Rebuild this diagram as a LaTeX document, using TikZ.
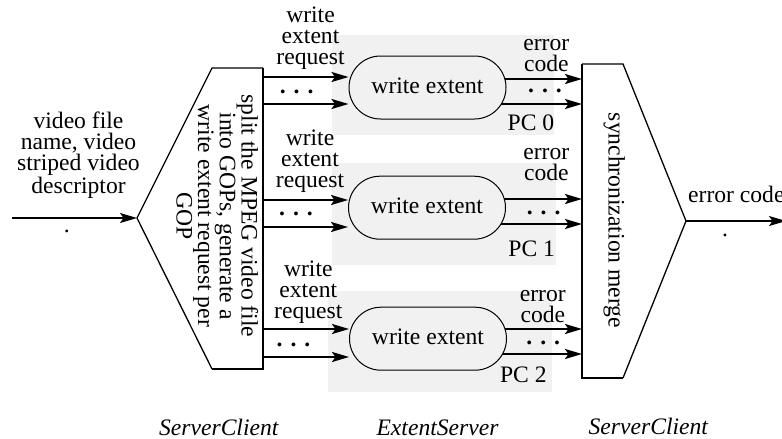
\documentclass[tikz,border=0pt]{standalone}
\usepackage{fontspec}
\setmainfont{Liberation Serif}
\usetikzlibrary{arrows.meta,shapes.misc,calc}
\pgfdeclarelayer{background}
\pgfsetlayers{background,main}
\definecolor{panel}{gray}{0.945}

\begin{document}
\begin{tikzpicture}[x=1pt,y=-1pt,
  every node/.style={font=\fontsize{23.6}{21}\selectfont, inner sep=0pt},
  lbl/.style={align=center, anchor=base},
  role/.style={anchor=base, font=\fontsize{23.6}{21}\selectfont\itshape},
  headed/.style={-{Stealth[length=17pt,width=10pt,inset=3.5pt]}},
  grouparrow/.style={headed, line width=2.2pt},
  inarrow/.style={headed, line width=1.3pt},
  edge/.style={line width=1.3pt, line join=miter},
  heavyedge/.style={line width=2.2pt, line join=miter},
  task/.style={rounded rectangle, draw, line width=1pt, fill=panel,
    minimum width=157pt, minimum height=63pt,
    text height=13pt, text depth=2pt},
  dots/.style={anchor=center, font=\fontsize{23.6}{21}\selectfont\bfseries}]
\useasboundingbox (0,0) rectangle (782,439);

% splitting stage (ServerClient)
\coordinate (sA) at (212,68);
\coordinate (sB) at (263,68);
\coordinate (sC) at (263,369);
\coordinate (sD) at (212,369);
\coordinate (sE) at (137,218);
\draw[edge] (sD) -- (sE) -- (sA) -- (sB);
\draw[heavyedge] (sB) -- (sC) -- (sD);
\node[rotate=-90, align=center, anchor=base,
      font=\fontsize{23.6}{21.7}\selectfont] (split) at (176.5,216)
  {split the MPEG video file\\into GOPs, generate a\\write extent request per\\GOP};

% merging stage (ServerClient)
\coordinate (mA) at (582,64);
\coordinate (mB) at (623,64);
\coordinate (mE) at (686,221);
\coordinate (mC) at (623,378);
\coordinate (mD) at (582,378);
\draw[edge] (mA) -- (mB) -- (mE) -- (mC);
\draw[heavyedge] (mC) -- (mD) -- (mA);
\node[rotate=-90, anchor=base] (merge) at (608.7,220.5) {synchronization merge};

% extent servers
\node[task] (s1) at (427.5,87.5) {write extent};
\node[task] (s2) at (427,207.7) {write extent};
\node[task] (s3) at (428,338.7) {write extent};

% request ports on the splitter, reply ports on the merger
\coordinate (o11) at (263,77);  \coordinate (o12) at (263,104);
\coordinate (o21) at (263,200); \coordinate (o22) at (263,227);
\coordinate (o31) at (263,329); \coordinate (o32) at (263,357);
\coordinate (i11) at (582,79);  \coordinate (i12) at (582,104);
\coordinate (i21) at (582,199); \coordinate (i22) at (582,224);
\coordinate (i31) at (582,329); \coordinate (i32) at (582,354);

\begin{pgfonlayer}{background}
  \fill[panel] (332,35) rectangle (554,135);
  \fill[panel] (332,163) rectangle (556,265);
  \fill[panel] (328,291) rectangle (552,392);
  \draw[grouparrow] (i11 -| s1.center) -- (i11);
  \draw[grouparrow] (i12 -| s1.center) -- (i12);
  \draw[grouparrow] (i21 -| s2.center) -- (i21);
  \draw[grouparrow] (i22 -| s2.center) -- (i22);
  \draw[grouparrow] (i31 -| s3.center) -- (i31);
  \draw[grouparrow] (i32 -| s3.center) -- (i32);
\end{pgfonlayer}

\draw[grouparrow] (o11) -- (o11 -| s1.west);
\draw[grouparrow] (o12) -- (o12 -| s1.west);
\draw[grouparrow] (o21) -- (o21 -| s2.west);
\draw[grouparrow] (o22) -- (o22 -| s2.west);
\draw[grouparrow] (o31) -- (o31 -| s3.west);
\draw[grouparrow] (o32) -- (o32 -| s3.west);

% labels on the request and reply lines
\node[lbl] (q1) at (310.5,64) {write\\extent\\request};
\node[lbl] (q2) at (310,187) {write\\extent\\request};
\node[lbl] (q3) at (308.3,318) {write\\extent\\request};
\node[lbl] (e1) at (546.3,71.7) {error\\code};
\node[lbl] (e2) at (546.3,180) {error\\code};
\node[lbl] (e3) at (542.8,322.7) {error\\code};
\node[lbl] (pc0) at (531,130.7) {PC 0};
\node[lbl] (pc1) at (531.7,256.7) {PC 1};
\node[lbl] (pc2) at (523.3,382.7) {PC 2};
\node[dots] (dl1) at (296.7,91.7) {.\kern8pt.\kern8pt.};
\node[dots] (dl2) at (296,214) {.\kern8pt.\kern8pt.};
\node[dots] (dl3) at (293.5,345) {.\kern8pt.\kern8pt.};
\node[dots] (dr1) at (545,90.7) {.\kern8pt.\kern8pt.};
\node[dots] (dr2) at (543.6,213.3) {.\kern8pt.\kern8pt.};
\node[dots] (dr3) at (543.3,343.3) {.\kern8pt.\kern8pt.};

% input and output of the whole operation
\coordinate (src) at (12,218);
\draw[inarrow] (src) -- (sE);
\node[lbl] (vin) at (78.5,193) {video file\\name, video\\striped video\\descriptor};
\node (din) at (66.7,231.7) {.};
\coordinate (sink) at (786,221);
\draw[inarrow] (mE) -- (sink);
\node[anchor=base west] (eout) at (688,202.5) {error code};
\node (dout) at (725,235) {.};

% process names
\node[role] (c1) at (218.8,435) {ServerClient};
\node[role] (c2) at (437.5,435) {ExtentServer};
\node[role] (c3) at (648.3,434) {ServerClient};
\end{tikzpicture}
\end{document}
